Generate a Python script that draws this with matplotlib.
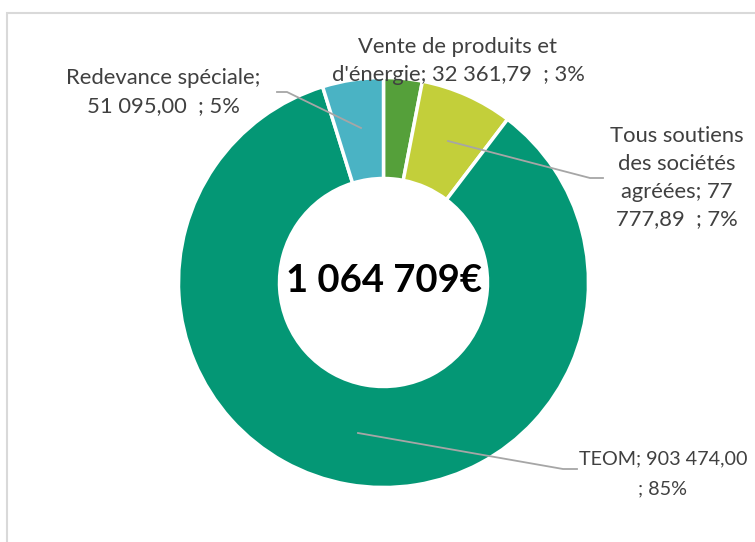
import matplotlib
matplotlib.use("Agg")
import matplotlib.pyplot as plt
from matplotlib.patches import Rectangle

categories = ["Vente de produits et d'énergie", "Tous soutiens des sociétés agréées", "TEOM", "Redevance spéciale"]
values = [32361.79, 77777.89, 903474.00, 51095.00]
colors = ["#55a03a", "#c3cf3a", "#049775", "#4ab3c4"]
label_texts = [
    "Vente de produits et\nd'énergie; 32 361,79  ; 3%",
    "Tous soutiens\ndes sociétés\nagréées; 77\n777,89  ; 7%",
    "TEOM; 903 474,00\n; 85%",
    "Redevance spéciale;\n51 095,00  ; 5%",
]

W, H = 755, 542
fig = plt.figure(figsize=(W / 100, H / 100), dpi=100)
ax = fig.add_axes([0, 0, 1, 1])
ax.set_xlim(0, W)
ax.set_ylim(0, H)
ax.set_aspect("equal")
ax.axis("off")

def Y(y):
    return H - y

# chart border
ax.add_patch(Rectangle((7, -5), W, Y(13) + 5, fill=False, edgecolor="#d9d9d9", lw=1.5))

cx, cy, R = 383.5, Y(282.5), 205
ax.pie(values, colors=colors, startangle=90, counterclock=False, center=(cx, cy), radius=R,
       wedgeprops=dict(width=R - 104, edgecolor="white", linewidth=2.5), frame=True)
ax.set_xlim(0, W)
ax.set_ylim(0, H)
ax.axis("off")

total = sum(values)
center_txt = f"{round(total):,}".replace(",", " ") + "€"
ax.text(cx, cy + 1, center_txt, ha="center", va="center", fontsize=27.5, fontweight="bold",
        color="black", family=["Lato", "DejaVu Sans"])

tcol = "#404040"
fs = 15.8
font = ["Lato", "DejaVu Sans"]
ls = 1.48
ax.text(458, Y(61), label_texts[0], ha="center", va="center", fontsize=fs, color=tcol, family=font, linespacing=ls)
ax.text(677, Y(178), label_texts[1], ha="center", va="center", fontsize=fs, color=tcol, family=font, linespacing=ls)
ax.text(663, Y(474), label_texts[2], ha="center", va="center", fontsize=14.2, color=tcol, family=font, linespacing=1.95)
ax.text(163, Y(92), label_texts[3], ha="center", va="center", fontsize=fs, color=tcol, family=font, linespacing=ls)

lc = "#a6a6a6"
ax.plot([277, 287, 361], [Y(92), Y(92), Y(128)], color=lc, lw=1.3)
ax.plot([448, 590, 603], [Y(141), Y(178), Y(178)], color=lc, lw=1.3)
ax.plot([358, 563, 577], [Y(433), Y(469), Y(469)], color=lc, lw=1.3)

fig.savefig("out.png", dpi=100)
